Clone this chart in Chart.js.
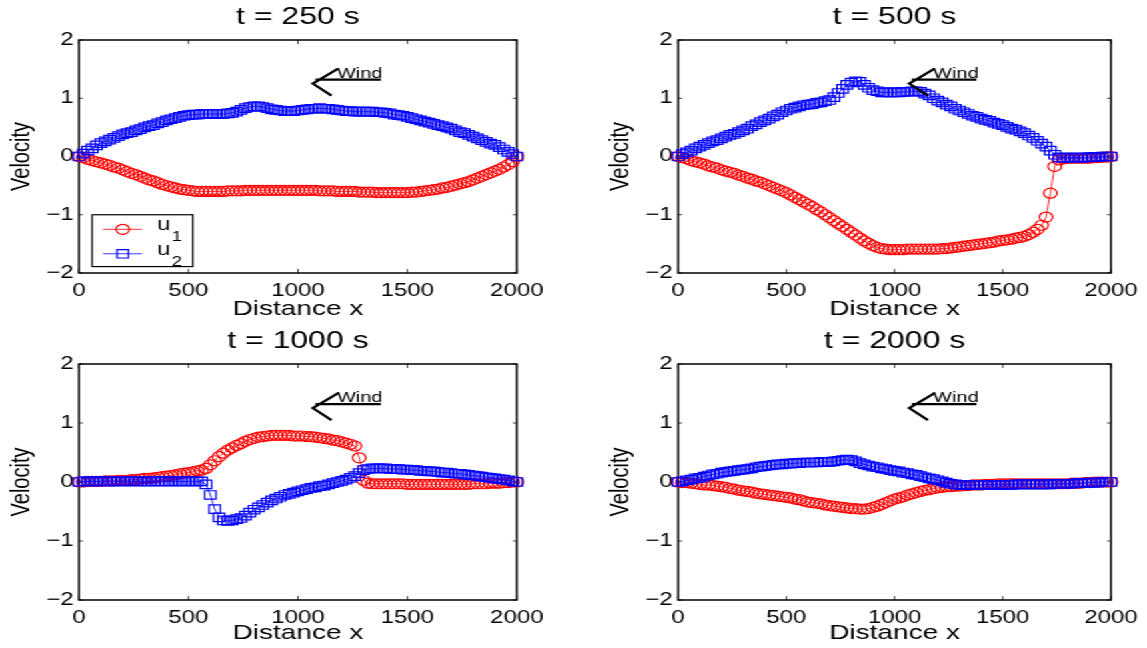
<!DOCTYPE html>
<html>
<head>
<meta charset="utf-8">
<title>Velocity profiles</title>
<script src="https://cdn.jsdelivr.net/npm/chart.js@4.4.0/dist/chart.umd.min.js"></script>
<style>
  body { margin: 0; background: #fff; overflow: hidden; }
  #page { position: absolute; left: 0; top: 0; width: 860px; height: 648px; transform-origin: 0 0; }
  #page canvas { position: absolute; }
</style>
</head>
<body>
<div id="page">
  <canvas id="p250" width="430" height="324"></canvas>
  <canvas id="p500" width="430" height="324"></canvas>
  <canvas id="p1000" width="430" height="324"></canvas>
  <canvas id="p2000" width="430" height="324"></canvas>
</div>
<script>
// grid points along the domain
const xs = [
  0, 20, 40, 60, 80, 100, 120, 140, 160, 180,
  200, 220, 240, 260, 280, 300, 320, 340, 360, 380,
  400, 420, 440, 460, 480, 500, 520, 540, 560, 580,
  600, 620, 640, 660, 680, 700, 720, 740, 760, 780,
  800, 820, 840, 860, 880, 900, 920, 940, 960, 980,
  1000, 1020, 1040, 1060, 1080, 1100, 1120, 1140, 1160, 1180,
  1200, 1220, 1240, 1260, 1280, 1300, 1320, 1340, 1360, 1380,
  1400, 1420, 1440, 1460, 1480, 1500, 1520, 1540, 1560, 1580,
  1600, 1620, 1640, 1660, 1680, 1700, 1720, 1740, 1760, 1780,
  1800, 1820, 1840, 1860, 1880, 1900, 1920, 1940, 1960, 1980,
  2000
];

// t = 250 s
const u1_250 = [
  0, -0.02, -0.05, -0.07, -0.09, -0.11, -0.13, -0.15, -0.18, -0.2,
  -0.23, -0.26, -0.29, -0.31, -0.34, -0.37, -0.4, -0.42, -0.45, -0.48,
  -0.5, -0.52, -0.54, -0.56, -0.57, -0.58, -0.59, -0.6, -0.6, -0.6,
  -0.6, -0.6, -0.6, -0.6, -0.59, -0.59, -0.59, -0.59, -0.58, -0.58,
  -0.58, -0.58, -0.58, -0.58, -0.58, -0.58, -0.58, -0.58, -0.58, -0.58,
  -0.58, -0.58, -0.58, -0.58, -0.58, -0.59, -0.59, -0.59, -0.59, -0.6,
  -0.6, -0.6, -0.6, -0.6, -0.61, -0.61, -0.61, -0.61, -0.62, -0.62,
  -0.62, -0.62, -0.62, -0.62, -0.62, -0.62, -0.61, -0.61, -0.6, -0.59,
  -0.58, -0.57, -0.56, -0.54, -0.53, -0.51, -0.49, -0.47, -0.45, -0.43,
  -0.4, -0.37, -0.34, -0.31, -0.28, -0.25, -0.22, -0.18, -0.14, -0.09,
  0
];
const u2_250 = [
  0, 0.05, 0.1, 0.14, 0.19, 0.23, 0.26, 0.29, 0.32, 0.35,
  0.38, 0.4, 0.42, 0.45, 0.47, 0.5, 0.52, 0.54, 0.57, 0.59,
  0.62, 0.64, 0.66, 0.68, 0.7, 0.71, 0.72, 0.72, 0.73, 0.73,
  0.73, 0.73, 0.73, 0.73, 0.74, 0.75, 0.77, 0.8, 0.83, 0.85,
  0.86, 0.86, 0.85, 0.83, 0.81, 0.8, 0.79, 0.78, 0.78, 0.78,
  0.79, 0.8, 0.81, 0.82, 0.82, 0.83, 0.82, 0.82, 0.81, 0.8,
  0.79, 0.78, 0.78, 0.77, 0.77, 0.77, 0.77, 0.77, 0.76, 0.76,
  0.75, 0.74, 0.72, 0.71, 0.7, 0.68, 0.66, 0.64, 0.62, 0.6,
  0.58, 0.56, 0.54, 0.52, 0.5, 0.48, 0.45, 0.42, 0.4, 0.37,
  0.34, 0.31, 0.28, 0.25, 0.22, 0.2, 0.16, 0.12, 0.08, 0.04,
  0
];

// t = 500 s
const u1_500 = [
  0, -0.02, -0.04, -0.07, -0.09, -0.11, -0.13, -0.16, -0.18, -0.2,
  -0.23, -0.25, -0.27, -0.29, -0.32, -0.34, -0.37, -0.39, -0.42, -0.44,
  -0.47, -0.5, -0.53, -0.56, -0.59, -0.62, -0.66, -0.7, -0.74, -0.78,
  -0.82, -0.86, -0.91, -0.95, -1.0, -1.05, -1.1, -1.15, -1.2, -1.25,
  -1.3, -1.35, -1.4, -1.45, -1.49, -1.53, -1.56, -1.58, -1.59, -1.6,
  -1.6, -1.6, -1.6, -1.59, -1.59, -1.59, -1.59, -1.59, -1.59, -1.59,
  -1.59, -1.58, -1.58, -1.57, -1.56, -1.55, -1.54, -1.53, -1.52, -1.51,
  -1.5, -1.49, -1.48, -1.47, -1.45, -1.44, -1.43, -1.42, -1.4, -1.39,
  -1.37, -1.34, -1.3, -1.25, -1.18, -1.04, -0.63, -0.17, -0.06, -0.04,
  -0.03, -0.03, -0.03, -0.03, -0.03, -0.03, -0.02, -0.02, -0.01, -0.01,
  0
];
const u2_500 = [
  0, 0.04, 0.07, 0.1, 0.14, 0.17, 0.2, 0.23, 0.26, 0.28,
  0.31, 0.34, 0.37, 0.39, 0.42, 0.45, 0.48, 0.52, 0.55, 0.59,
  0.62, 0.65, 0.69, 0.72, 0.76, 0.79, 0.82, 0.84, 0.86, 0.88,
  0.89, 0.9, 0.92, 0.93, 0.95, 0.97, 1.02, 1.09, 1.16, 1.23,
  1.27, 1.29, 1.28, 1.23, 1.18, 1.14, 1.12, 1.1, 1.1, 1.1,
  1.1, 1.1, 1.11, 1.11, 1.12, 1.12, 1.11, 1.08, 1.05, 1.0,
  0.96, 0.93, 0.89, 0.86, 0.82, 0.79, 0.76, 0.73, 0.7, 0.68,
  0.65, 0.63, 0.61, 0.58, 0.56, 0.54, 0.51, 0.48, 0.46, 0.43,
  0.4, 0.36, 0.32, 0.27, 0.22, 0.17, 0.1, 0.03, -0.02, -0.02,
  -0.02, -0.02, -0.02, -0.02, -0.02, -0.01, -0.01, -0.01, 0, 0,
  0
];

// t = 1000 s
const u1_1000 = [
  0, 0, 0.01, 0.01, 0.01, 0.01, 0.02, 0.02, 0.02, 0.03,
  0.03, 0.03, 0.04, 0.04, 0.05, 0.06, 0.06, 0.07, 0.08, 0.09,
  0.1, 0.11, 0.12, 0.14, 0.15, 0.16, 0.17, 0.19, 0.2, 0.23,
  0.29, 0.36, 0.43, 0.49, 0.54, 0.58, 0.62, 0.65, 0.69, 0.72,
  0.74, 0.76, 0.77, 0.78, 0.79, 0.79, 0.79, 0.79, 0.79, 0.78,
  0.78, 0.78, 0.77, 0.77, 0.76, 0.75, 0.74, 0.73, 0.71, 0.7,
  0.68, 0.66, 0.64, 0.61, 0.41, 0.03, -0.02, -0.03, -0.03, -0.03,
  -0.03, -0.03, -0.03, -0.03, -0.03, -0.04, -0.04, -0.04, -0.04, -0.04,
  -0.04, -0.04, -0.04, -0.04, -0.04, -0.04, -0.04, -0.04, -0.04, -0.04,
  -0.03, -0.03, -0.03, -0.03, -0.02, -0.02, -0.02, -0.01, -0.01, 0,
  0
];
const u2_1000 = [
  0, 0.01, 0.01, 0.01, 0.01, 0.01, 0.01, 0.01, 0.01, 0.01,
  0.01, 0.01, 0.01, 0.01, 0.01, 0.01, 0.01, 0.01, 0.01, 0.01,
  0.01, 0.01, 0.01, 0.01, 0.01, 0.01, 0.01, 0.01, 0.01, -0.04,
  -0.22, -0.46, -0.6, -0.65, -0.66, -0.65, -0.63, -0.61, -0.57, -0.52,
  -0.47, -0.43, -0.39, -0.35, -0.31, -0.28, -0.25, -0.22, -0.2, -0.18,
  -0.16, -0.14, -0.12, -0.1, -0.09, -0.07, -0.06, -0.04, -0.02, 0,
  0.02, 0.04, 0.07, 0.1, 0.15, 0.2, 0.22, 0.23, 0.23, 0.23,
  0.23, 0.22, 0.22, 0.22, 0.21, 0.21, 0.2, 0.2, 0.19, 0.19,
  0.18, 0.18, 0.17, 0.16, 0.16, 0.15, 0.14, 0.14, 0.13, 0.12,
  0.11, 0.1, 0.09, 0.08, 0.07, 0.06, 0.05, 0.04, 0.03, 0.01,
  0
];

// t = 2000 s
const u1_2000 = [
  0, -0.01, -0.01, -0.02, -0.03, -0.04, -0.05, -0.05, -0.06, -0.07,
  -0.08, -0.09, -0.11, -0.12, -0.14, -0.15, -0.16, -0.17, -0.19, -0.2,
  -0.21, -0.22, -0.23, -0.24, -0.25, -0.26, -0.27, -0.29, -0.3, -0.32,
  -0.34, -0.35, -0.36, -0.37, -0.39, -0.4, -0.41, -0.42, -0.43, -0.44,
  -0.45, -0.45, -0.46, -0.46, -0.45, -0.43, -0.41, -0.38, -0.35, -0.32,
  -0.29, -0.27, -0.25, -0.22, -0.2, -0.18, -0.16, -0.14, -0.13, -0.11,
  -0.1, -0.09, -0.08, -0.08, -0.07, -0.07, -0.06, -0.06, -0.05, -0.05,
  -0.05, -0.04, -0.04, -0.04, -0.03, -0.03, -0.03, -0.03, -0.03, -0.03,
  -0.03, -0.03, -0.03, -0.03, -0.03, -0.03, -0.03, -0.03, -0.03, -0.03,
  -0.03, -0.02, -0.02, -0.02, -0.01, -0.01, 0, 0, 0, 0,
  0
];
const u2_2000 = [
  0, 0.01, 0.03, 0.04, 0.06, 0.07, 0.09, 0.11, 0.13, 0.14,
  0.16, 0.17, 0.18, 0.19, 0.2, 0.21, 0.22, 0.23, 0.25, 0.26,
  0.27, 0.28, 0.29, 0.3, 0.3, 0.31, 0.31, 0.32, 0.32, 0.33,
  0.33, 0.33, 0.33, 0.34, 0.34, 0.34, 0.35, 0.36, 0.37, 0.38,
  0.37, 0.35, 0.32, 0.3, 0.28, 0.26, 0.25, 0.23, 0.22, 0.2,
  0.19, 0.18, 0.16, 0.15, 0.13, 0.12, 0.1, 0.08, 0.06, 0.05,
  0.03, 0.01, -0.01, -0.03, -0.04, -0.05, -0.05, -0.05, -0.05, -0.05,
  -0.05, -0.05, -0.05, -0.05, -0.05, -0.05, -0.05, -0.05, -0.04, -0.04,
  -0.04, -0.04, -0.04, -0.04, -0.04, -0.04, -0.04, -0.03, -0.03, -0.03,
  -0.03, -0.03, -0.02, -0.02, -0.02, -0.01, -0.01, -0.01, 0, 0,
  0
];

// wind arrow, in data units
const windTip = 1068;
const windEnd = 1379;
const windY = 1.32;
const windLabelX = 1178;

// the whole figure is drawn 860 wide and stretched to 1147
const S = 1147 / 860;
const CW = 430, CH = 324;
const FONT = '"Liberation Sans", Arial, Helvetica, sans-serif';
const CIRCLE_R = 5;
const SQUARE_R = 6;

Chart.defaults.font.family = FONT;
Chart.defaults.color = '#000';

// frame boxes are given in page pixels
const panels = [
  { id: 'p250', title: 't = 250 s', u1: u1_250, u2: u2_250, cx: 0, cy: 0,
    box: { left: 79, right: 517, top: 40, bottom: 273 }, titleY: 17, ylabX: 22, legend: true },
  { id: 'p500', title: 't = 500 s', u1: u1_500, u2: u2_500, cx: 430, cy: 0,
    box: { left: 678, right: 1117, top: 40, bottom: 273 }, titleY: 17, ylabX: 621, legend: false },
  { id: 'p1000', title: 't = 1000 s', u1: u1_1000, u2: u2_1000, cx: 0, cy: 324,
    box: { left: 79, right: 517, top: 364, bottom: 600 }, titleY: 341, ylabX: 22, legend: false },
  { id: 'p2000', title: 't = 2000 s', u1: u1_2000, u2: u2_2000, cx: 430, cy: 324,
    box: { left: 678, right: 1117, top: 364, bottom: 600 }, titleY: 341, ylabX: 621, legend: false }
];

function toPoints(ys) {
  return xs.map((x, i) => ({ x: x, y: ys[i] }));
}

function drawMarker(ctx, style, x, y, color) {
  ctx.strokeStyle = color;
  ctx.lineWidth = 1.2;
  ctx.beginPath();
  if (style === 'circle') {
    ctx.arc(x, y, CIRCLE_R, 0, Math.PI * 2);
  } else {
    const h = SQUARE_R * Math.SQRT1_2;
    ctx.rect(x - h, y - h, 2 * h, 2 * h);
  }
  ctx.stroke();
}

// frame, inward ticks, wind arrow and the legend box
function decor(p) {
  return {
    id: 'decor',
    beforeDatasetsDraw(chart) {
      const ctx = chart.ctx;
      const a = chart.chartArea;
      const sx = chart.scales.x, sy = chart.scales.y;
      ctx.save();
      ctx.strokeStyle = '#444';
      ctx.lineWidth = 1;
      ctx.beginPath();
      sx.ticks.forEach(t => {
        const px = sx.getPixelForValue(t.value);
        ctx.moveTo(px, a.bottom); ctx.lineTo(px, a.bottom - 4);
        ctx.moveTo(px, a.top); ctx.lineTo(px, a.top + 4);
      });
      sy.ticks.forEach(t => {
        const py = sy.getPixelForValue(t.value);
        ctx.moveTo(a.left, py); ctx.lineTo(a.left + 3, py);
        ctx.moveTo(a.right, py); ctx.lineTo(a.right - 3, py);
      });
      ctx.stroke();
      ctx.strokeStyle = '#000';
      ctx.lineWidth = 1.5;
      ctx.strokeRect(a.left, a.top, a.right - a.left, a.bottom - a.top);
      ctx.restore();
    },
    afterDatasetsDraw(chart) {
      const ctx = chart.ctx;
      const sx = chart.scales.x, sy = chart.scales.y;
      ctx.save();

      // wind arrow
      const tx = sx.getPixelForValue(windTip);
      const ex = sx.getPixelForValue(windEnd);
      const wy = sy.getPixelForValue(windY);
      ctx.strokeStyle = '#000';
      ctx.lineWidth = 2.2;
      ctx.beginPath();
      ctx.moveTo(tx + 2, wy);
      ctx.lineTo(ex, wy);
      ctx.moveTo(tx + 19, wy - 11);
      ctx.lineTo(tx, wy + 4);
      ctx.lineTo(tx + 14, wy + 16);
      ctx.stroke();
      ctx.fillStyle = '#000';
      ctx.font = '15px ' + FONT;
      ctx.textAlign = 'left';
      ctx.textBaseline = 'alphabetic';
      ctx.fillText('Wind', sx.getPixelForValue(windLabelX), wy - 2);

      if (p.legend) {
        const x0 = sx.getPixelForValue(60), x1 = sx.getPixelForValue(520);
        const y0 = sy.getPixelForValue(-1.0), y1 = sy.getPixelForValue(-1.89);
        ctx.fillStyle = '#fff';
        ctx.fillRect(x0, y0, x1 - x0, y1 - y0);
        ctx.strokeStyle = '#000';
        ctx.lineWidth = 1.2;
        ctx.strokeRect(x0, y0, x1 - x0, y1 - y0);
        const rows = [
          { y: -1.25, color: '#ff0000', style: 'circle', sub: '1' },
          { y: -1.67, color: '#0000ff', style: 'rect', sub: '2' }
        ];
        rows.forEach(r => {
          const ry = sy.getPixelForValue(r.y);
          const lx0 = sx.getPixelForValue(110), lx1 = sx.getPixelForValue(288);
          ctx.strokeStyle = r.color;
          ctx.lineWidth = 0.8;
          ctx.beginPath();
          ctx.moveTo(lx0, ry); ctx.lineTo(lx1, ry);
          ctx.stroke();
          drawMarker(ctx, r.style, sx.getPixelForValue(200), ry, r.color);
          const tx0 = sx.getPixelForValue(356);
          ctx.fillStyle = '#000';
          ctx.font = '18px ' + FONT;
          ctx.fillText('u', tx0, ry + 1);
          const w = ctx.measureText('u').width;
          ctx.font = '14px ' + FONT;
          ctx.fillText(r.sub, tx0 + w + 1, ry + 12);
        });
      }
      ctx.restore();
    }
  };
}

function buildPanel(p) {
  const canvas = document.getElementById(p.id);
  canvas.style.left = p.cx + 'px';
  canvas.style.top = p.cy + 'px';

  const areaLeft = p.box.left / S - p.cx;
  const areaRight = p.box.right / S - p.cx;
  const areaTop = p.box.top - p.cy;
  const areaBottom = p.box.bottom - p.cy;
  const titleTop = p.titleY - p.cy - 14.4;
  const ylabPad = p.ylabX / S - p.cx - 12;

  new Chart(canvas, {
    type: 'scatter',
    data: {
      datasets: [
        {
          label: 'u1', data: toPoints(p.u1), showLine: true,
          borderColor: '#ff0000', borderWidth: 0.8,
          pointStyle: 'circle', pointRadius: CIRCLE_R, pointBorderWidth: 1.2,
          pointBorderColor: '#ff0000', pointBackgroundColor: 'rgba(0,0,0,0)',
          clip: false, order: 2
        },
        {
          label: 'u2', data: toPoints(p.u2), showLine: true,
          borderColor: '#0000ff', borderWidth: 0.8,
          pointStyle: 'rect', pointRadius: SQUARE_R, pointBorderWidth: 1.2,
          pointBorderColor: '#0000ff', pointBackgroundColor: 'rgba(0,0,0,0)',
          clip: false, order: 1
        }
      ]
    },
    options: {
      responsive: false,
      animation: false,
      events: [],
      layout: { padding: { left: 0, top: 0, bottom: 0, right: CW - areaRight } },
      plugins: {
        legend: { display: false },
        tooltip: { enabled: false },
        title: {
          display: true, text: p.title, fullSize: false, color: '#000',
          font: { size: 24, weight: 'normal' },
          padding: { top: titleTop, bottom: areaTop - 28.8 - titleTop }
        }
      },
      scales: {
        x: {
          type: 'linear', min: 0, max: 2000,
          ticks: {
            stepSize: 500, color: '#000', font: { size: 18 }, padding: 7, maxRotation: 0,
            callback: v => String(v)
          },
          grid: { display: false, drawTicks: false },
          border: { display: false },
          title: { display: true, text: 'Distance x', color: '#000', font: { size: 21 }, padding: { top: 0, bottom: 2 } },
          afterFit: s => { s.height = CH - areaBottom; }
        },
        y: {
          type: 'linear', min: -2, max: 2,
          ticks: {
            stepSize: 1, color: '#000', font: { size: 18 }, padding: 4,
            callback: v => (v < 0 ? '\u2212' + Math.abs(v) : String(v))
          },
          grid: { display: false, drawTicks: false },
          border: { display: false },
          title: { display: true, text: 'Velocity', color: '#000', font: { size: 20 }, padding: { top: ylabPad, bottom: 0 } },
          afterFit: s => { s.width = areaLeft; }
        }
      }
    },
    plugins: [decor(p)]
  });
}

document.getElementById('page').style.transform = 'scaleX(' + S + ')';
panels.forEach(buildPanel);
</script>
</body>
</html>
